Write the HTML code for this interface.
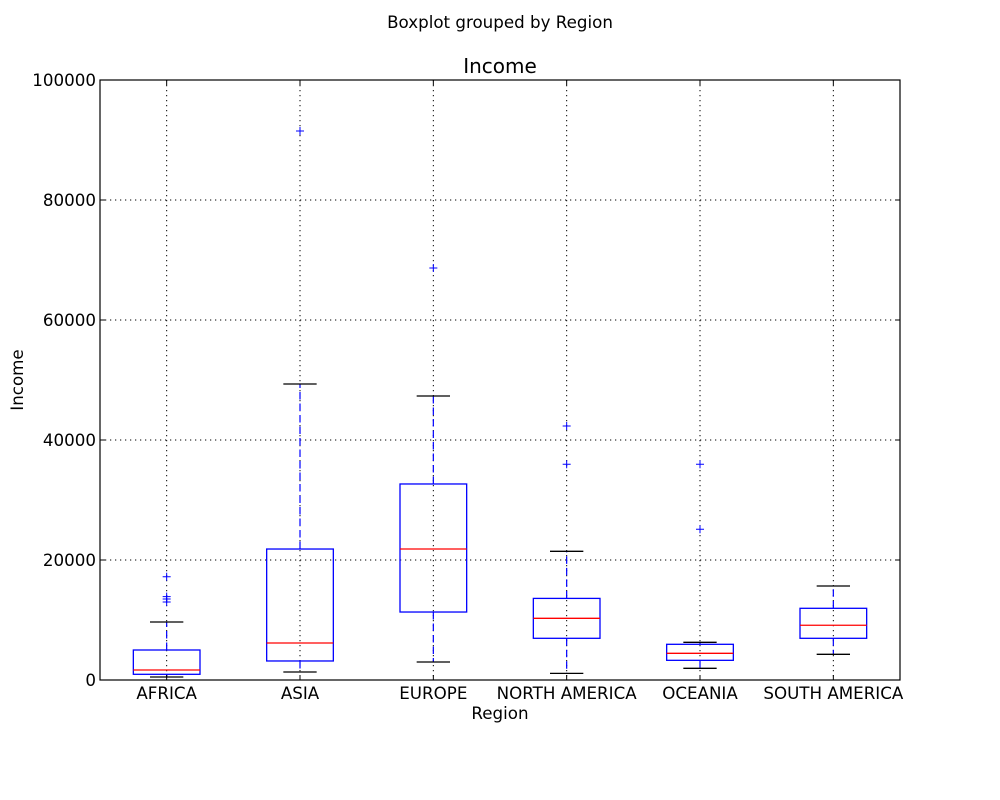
<!DOCTYPE html>
<html><head><meta charset="utf-8"><style>
body{margin:0;background:#fff;}
svg{display:block;font-family:"DejaVu Sans","Liberation Sans",sans-serif;}
</style></head><body>
<svg id="chart" width="1000" height="800" viewBox="0 0 1000 800">
<text x="500" y="28" text-anchor="middle" font-size="16.7">Boxplot grouped by Region</text>
<text x="500" y="73" text-anchor="middle" font-size="20">Income</text>
<text x="500" y="719" text-anchor="middle" font-size="16.7">Region</text>
<text x="23" y="380" text-anchor="middle" font-size="16.7" transform="rotate(-90 23 380)">Income</text>
<g id="grid"></g><g id="marks"></g><g id="axes"></g>
</svg>
<script>
const categories = ["AFRICA","ASIA","EUROPE","NORTH AMERICA","OCEANIA","SOUTH AMERICA"];
const q1 = [950, 3170, 11330, 6950, 3280, 6950];
const medians = [1670, 6170, 21830, 10280, 4450, 9120];
const q3 = [5000, 21830, 32670, 13600, 5950, 11950];
const whiskerLow = [500, 1330, 3000, 1100, 1950, 4280];
const whiskerHigh = [9670, 49330, 47330, 21450, 6280, 15670];
const outliers = [[17200, 13900, 13500, 13000], [91500], [68670], [42330, 35950], [35950, 25120], []];
const yTicks = [0, 20000, 40000, 60000, 80000, 100000];

const L=100, R=900, T=80, B=680, yMax=100000;
const xs = i => L + (i + 0.5) * (R - L) / categories.length;
const ys = v => B - v / yMax * (B - T);
const NS = "http://www.w3.org/2000/svg";
function mk(parent, tag, attrs){const e=document.createElementNS(NS,tag);for(const k in attrs)e.setAttribute(k,attrs[k]);parent.appendChild(e);return e;}
const grid=document.getElementById('grid'), marks=document.getElementById('marks'), axes=document.getElementById('axes');

yTicks.forEach((t,i)=>{
  const y=ys(t);
  if(t>0&&t<yMax){const g=mk(grid,'line',{x1:L,x2:R,y1:y,y2:y,stroke:'#000','stroke-width':1,'stroke-dasharray':'1.25,3.75'});
  
  }
  mk(axes,'line',{x1:L,x2:L+5,y1:y,y2:y,stroke:'#000'});
  mk(axes,'line',{x1:R-5,x2:R,y1:y,y2:y,stroke:'#000'});
  const tx=mk(axes,'text',{x:L-4,y:y+6,'text-anchor':'end','font-size':16.7});
  tx.textContent=String(t);
  
  
});
categories.forEach((c,i)=>{
  const x=xs(i);
  const g=mk(grid,'line',{x1:x,x2:x,y1:T,y2:B,stroke:'#000','stroke-width':1,'stroke-dasharray':'1.25,3.75'});
  
  
  mk(axes,'line',{x1:x,x2:x,y1:B,y2:B-5,stroke:'#000'});
  mk(axes,'line',{x1:x,x2:x,y1:T,y2:T+5,stroke:'#000'});
  const tx=mk(axes,'text',{x:x,y:B+19,'text-anchor':'middle','font-size':16.7});
  tx.textContent=c;
  
  

  const grp=mk(marks,'g',{});
  
  
  const bw=(R-L)/categories.length*0.5, cw=bw/2;
  mk(grp,'line',{x1:x,x2:x,y1:ys(q3[i]),y2:ys(whiskerHigh[i]),stroke:'#0000ff','stroke-width':1.2,'stroke-dasharray':'7.5,4'});
  mk(grp,'line',{x1:x,x2:x,y1:ys(q1[i]),y2:ys(whiskerLow[i]),stroke:'#0000ff','stroke-width':1.2,'stroke-dasharray':'7.5,4'});
  mk(grp,'line',{x1:x-cw/2,x2:x+cw/2,y1:ys(whiskerHigh[i]),y2:ys(whiskerHigh[i]),stroke:'#000','stroke-width':1.3});
  mk(grp,'line',{x1:x-cw/2,x2:x+cw/2,y1:ys(whiskerLow[i]),y2:ys(whiskerLow[i]),stroke:'#000','stroke-width':1.3});
  mk(grp,'rect',{x:x-bw/2,y:ys(q3[i]),width:bw,height:ys(q1[i])-ys(q3[i]),fill:'none',stroke:'#0000ff','stroke-width':1.3});
  mk(grp,'line',{x1:x-bw/2,x2:x+bw/2,y1:ys(medians[i]),y2:ys(medians[i]),stroke:'#ff0000','stroke-width':1.3});
  outliers[i].forEach(v=>{
    const y=ys(v);
    const p=mk(grp,'path',{d:`M${x-4},${y}H${x+4}M${x},${y-4}V${y+4}`,stroke:'#0000ff','stroke-width':1});
    
    
  });
});
const frame=mk(axes,'rect',{x:L,y:T,width:R-L,height:B-T,fill:'none',stroke:'#000','stroke-width':1.2});


</script>
</body></html>
